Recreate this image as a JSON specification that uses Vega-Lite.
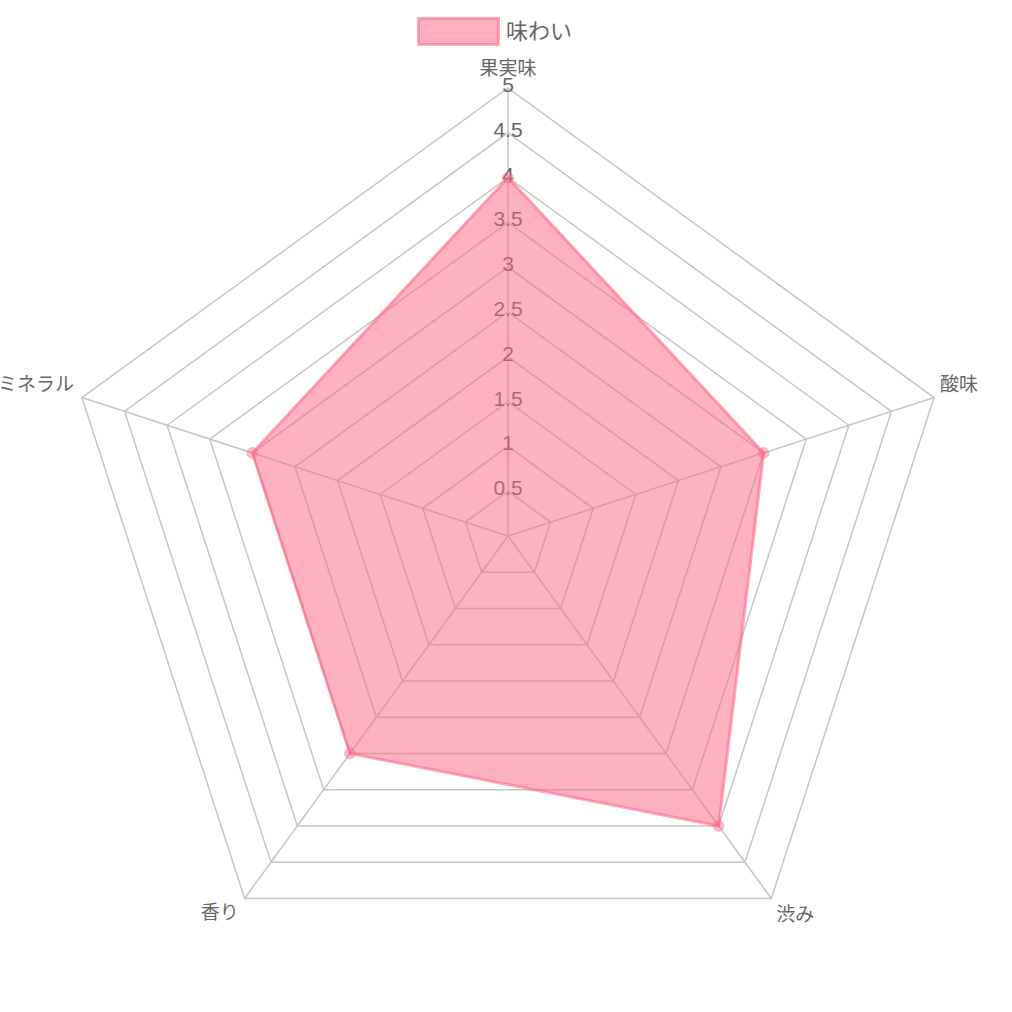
{
  "$schema": "https://vega.github.io/schema/vega-lite/v6.json",
  "width": 1012,
  "height": 1012,
  "autosize": {"type": "none"},
  "padding": 0,
  "background": "white",
  "config": {"view": {"stroke": null}},
  "datasets": {
    "scores": [
      {"axis": "果実味", "idx": 0, "value": 4, "series": "味わい"},
      {"axis": "酸味", "idx": 1, "value": 3, "series": "味わい"},
      {"axis": "渋み", "idx": 2, "value": 4, "series": "味わい"},
      {"axis": "香り", "idx": 3, "value": 3, "series": "味わい"},
      {"axis": "ミネラル", "idx": 4, "value": 3, "series": "味わい"}
    ],
    "levels": [
      {"level": 0.5, "label": "0.5", "spokes": [0, 1, 2, 3, 4]},
      {"level": 1, "label": "1", "spokes": [0, 1, 2, 3, 4]},
      {"level": 1.5, "label": "1.5", "spokes": [0, 1, 2, 3, 4]},
      {"level": 2, "label": "2", "spokes": [0, 1, 2, 3, 4]},
      {"level": 2.5, "label": "2.5", "spokes": [0, 1, 2, 3, 4]},
      {"level": 3, "label": "3", "spokes": [0, 1, 2, 3, 4]},
      {"level": 3.5, "label": "3.5", "spokes": [0, 1, 2, 3, 4]},
      {"level": 4, "label": "4", "spokes": [0, 1, 2, 3, 4]},
      {"level": 4.5, "label": "4.5", "spokes": [0, 1, 2, 3, 4]},
      {"level": 5, "label": "5", "spokes": [0, 1, 2, 3, 4]}
    ]
  },
  "layer": [
    {
      "data": {"name": "levels"},
      "transform": [
        {"flatten": ["spokes"], "as": ["i"]},
        {"calculate": "datum.level*sin(datum.i*2*PI/5)", "as": "gx"},
        {"calculate": "datum.level*cos(datum.i*2*PI/5)", "as": "gy"}
      ],
      "mark": {"type": "line", "interpolate": "linear-closed", "stroke": "#c6c6c6", "strokeWidth": 1.5},
      "encoding": {
        "x": {"field": "gx", "type": "quantitative", "scale": {"domain": [-5.6696, 5.625], "nice": false, "zero": false}, "axis": null},
        "y": {"field": "gy", "type": "quantitative", "scale": {"domain": [-5.3125, 5.9821], "nice": false, "zero": false}, "axis": null},
        "detail": {"field": "level", "type": "nominal"},
        "order": {"field": "i", "type": "quantitative"}
      }
    },
    {
      "data": {"name": "scores"},
      "transform": [
        {"calculate": "5*sin(datum.idx*2*PI/5)", "as": "ax"},
        {"calculate": "5*cos(datum.idx*2*PI/5)", "as": "ay"},
        {"calculate": "0", "as": "cx"}
      ],
      "mark": {"type": "rule", "stroke": "#c6c6c6", "strokeWidth": 1.5},
      "encoding": {
        "x": {"field": "cx", "type": "quantitative", "scale": {"domain": [-5.6696, 5.625], "nice": false, "zero": false}, "axis": null},
        "y": {"field": "cx", "type": "quantitative", "scale": {"domain": [-5.3125, 5.9821], "nice": false, "zero": false}, "axis": null},
        "x2": {"field": "ax"},
        "y2": {"field": "ay"}
      }
    },
    {
      "data": {"name": "levels"},
      "transform": [{"calculate": "0", "as": "cx"}],
      "mark": {"type": "text", "font": "Liberation Sans", "fontSize": 21, "color": "#666666", "align": "center", "baseline": "middle", "dy": -2},
      "encoding": {
        "x": {"field": "cx", "type": "quantitative", "scale": {"domain": [-5.6696, 5.625], "nice": false, "zero": false}, "axis": null},
        "y": {"field": "level", "type": "quantitative", "scale": {"domain": [-5.3125, 5.9821], "nice": false, "zero": false}, "axis": null},
        "text": {"field": "label", "type": "nominal"}
      }
    },
    {
      "data": {"name": "scores"},
      "transform": [
        {"calculate": "datum.value*sin(datum.idx*2*PI/5)", "as": "px"},
        {"calculate": "datum.value*cos(datum.idx*2*PI/5)", "as": "py"}
      ],
      "mark": {"type": "line", "interpolate": "linear-closed", "fill": "rgba(255,99,132,0.5)", "strokeWidth": 3},
      "encoding": {
        "x": {"field": "px", "type": "quantitative", "scale": {"domain": [-5.6696, 5.625], "nice": false, "zero": false}, "axis": null},
        "y": {"field": "py", "type": "quantitative", "scale": {"domain": [-5.3125, 5.9821], "nice": false, "zero": false}, "axis": null},
        "order": {"field": "idx", "type": "quantitative"},
        "color": {
          "field": "series",
          "type": "nominal",
          "scale": {"range": ["rgba(255,99,132,0.55)"]},
          "legend": {
            "orient": "none",
            "legendX": 417,
            "legendY": -10,
            "title": null,
            "padding": 0,
            "symbolType": "M-1,-0.325H1V0.325H-1Z",
            "symbolSize": 6400,
            "symbolFillColor": "rgba(255,99,132,0.5)",
            "symbolStrokeColor": "rgba(255,99,132,0.55)",
            "symbolStrokeWidth": 3,
            "labelFontSize": 22,
            "labelColor": "#666666",
            "labelFont": "Noto Sans CJK JP",
            "labelOffset": 6
          }
        }
      }
    },
    {
      "data": {"name": "scores"},
      "transform": [
        {"calculate": "datum.value*sin(datum.idx*2*PI/5)", "as": "px"},
        {"calculate": "datum.value*cos(datum.idx*2*PI/5)", "as": "py"}
      ],
      "mark": {"type": "point", "filled": true, "size": 115, "fill": "rgba(255,99,132,0.6)", "stroke": "rgba(255,99,132,0.6)", "strokeWidth": 1},
      "encoding": {
        "x": {"field": "px", "type": "quantitative", "scale": {"domain": [-5.6696, 5.625], "nice": false, "zero": false}, "axis": null},
        "y": {"field": "py", "type": "quantitative", "scale": {"domain": [-5.3125, 5.9821], "nice": false, "zero": false}, "axis": null}
      }
    },
    {
      "data": {"name": "scores"},
      "transform": [
        {"filter": "datum.idx == 0"},
        {"calculate": "5*sin(datum.idx*2*PI/5)", "as": "ax"},
        {"calculate": "5*cos(datum.idx*2*PI/5)", "as": "ay"}
      ],
      "mark": {"type": "text", "font": "Noto Sans CJK JP", "fontSize": 19, "color": "#666666", "align": "center", "baseline": "middle", "dy": -19},
      "encoding": {
        "x": {"field": "ax", "type": "quantitative", "scale": {"domain": [-5.6696, 5.625], "nice": false, "zero": false}, "axis": null},
        "y": {"field": "ay", "type": "quantitative", "scale": {"domain": [-5.3125, 5.9821], "nice": false, "zero": false}, "axis": null},
        "text": {"field": "axis", "type": "nominal"}
      }
    },
    {
      "data": {"name": "scores"},
      "transform": [
        {"filter": "datum.idx == 1"},
        {"calculate": "5*sin(datum.idx*2*PI/5)", "as": "ax"},
        {"calculate": "5*cos(datum.idx*2*PI/5)", "as": "ay"}
      ],
      "mark": {"type": "text", "font": "Noto Sans CJK JP", "fontSize": 19, "color": "#666666", "align": "left", "baseline": "middle", "dx": 6, "dy": -13},
      "encoding": {
        "x": {"field": "ax", "type": "quantitative", "scale": {"domain": [-5.6696, 5.625], "nice": false, "zero": false}, "axis": null},
        "y": {"field": "ay", "type": "quantitative", "scale": {"domain": [-5.3125, 5.9821], "nice": false, "zero": false}, "axis": null},
        "text": {"field": "axis", "type": "nominal"}
      }
    },
    {
      "data": {"name": "scores"},
      "transform": [
        {"filter": "datum.idx == 2"},
        {"calculate": "5*sin(datum.idx*2*PI/5)", "as": "ax"},
        {"calculate": "5*cos(datum.idx*2*PI/5)", "as": "ay"}
      ],
      "mark": {"type": "text", "font": "Noto Sans CJK JP", "fontSize": 19, "color": "#666666", "align": "left", "baseline": "middle", "dx": 5, "dy": 17},
      "encoding": {
        "x": {"field": "ax", "type": "quantitative", "scale": {"domain": [-5.6696, 5.625], "nice": false, "zero": false}, "axis": null},
        "y": {"field": "ay", "type": "quantitative", "scale": {"domain": [-5.3125, 5.9821], "nice": false, "zero": false}, "axis": null},
        "text": {"field": "axis", "type": "nominal"}
      }
    },
    {
      "data": {"name": "scores"},
      "transform": [
        {"filter": "datum.idx == 3"},
        {"calculate": "5*sin(datum.idx*2*PI/5)", "as": "ax"},
        {"calculate": "5*cos(datum.idx*2*PI/5)", "as": "ay"}
      ],
      "mark": {"type": "text", "font": "Noto Sans CJK JP", "fontSize": 19, "color": "#666666", "align": "right", "baseline": "middle", "dx": -6, "dy": 15},
      "encoding": {
        "x": {"field": "ax", "type": "quantitative", "scale": {"domain": [-5.6696, 5.625], "nice": false, "zero": false}, "axis": null},
        "y": {"field": "ay", "type": "quantitative", "scale": {"domain": [-5.3125, 5.9821], "nice": false, "zero": false}, "axis": null},
        "text": {"field": "axis", "type": "nominal"}
      }
    },
    {
      "data": {"name": "scores"},
      "transform": [
        {"filter": "datum.idx == 4"},
        {"calculate": "5*sin(datum.idx*2*PI/5)", "as": "ax"},
        {"calculate": "5*cos(datum.idx*2*PI/5)", "as": "ay"}
      ],
      "mark": {"type": "text", "font": "Noto Sans CJK JP", "fontSize": 19, "color": "#666666", "align": "right", "baseline": "middle", "dx": -8, "dy": -13},
      "encoding": {
        "x": {"field": "ax", "type": "quantitative", "scale": {"domain": [-5.6696, 5.625], "nice": false, "zero": false}, "axis": null},
        "y": {"field": "ay", "type": "quantitative", "scale": {"domain": [-5.3125, 5.9821], "nice": false, "zero": false}, "axis": null},
        "text": {"field": "axis", "type": "nominal"}
      }
    }
  ]
}
